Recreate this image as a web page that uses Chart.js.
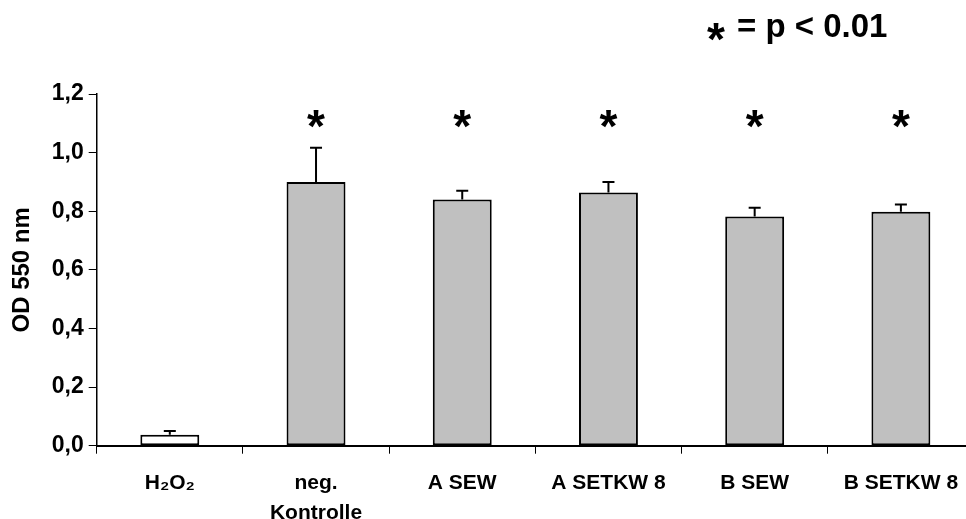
<!DOCTYPE html>
<html>
<head>
<meta charset="utf-8">
<script src="https://cdn.jsdelivr.net/npm/chart.js@4.4.1/dist/chart.umd.min.js"></script>
<style>
  html, body { margin: 0; padding: 0; background: #fff; overflow: hidden; }
  #wrap { width: 980px; height: 519px; }
</style>
</head>
<body>
<div id="wrap"><canvas id="c" width="980" height="519"></canvas></div>
<script>
// Groups on the x axis (multi-line labels as arrays)
const categories = [["H\u2082O\u2082"], ["neg.", "Kontrolle"], ["A SEW"], ["A SETKW 8"], ["B SEW"], ["B SETKW 8"]];
// Mean optical density at 550 nm
const means = [0.037, 0.90, 0.84, 0.864, 0.782, 0.798];
// Upper error (standard deviation)
const errors = [0.013, 0.117, 0.03, 0.036, 0.03, 0.025];
// Significance flags (p < 0.01)
const significant = [false, true, true, true, true, true];
// Height at which the significance stars sit
const starLevel = 1.12;
// Bar fills
const fills = ["#ffffff", "#c0c0c0", "#c0c0c0", "#c0c0c0", "#c0c0c0", "#c0c0c0"];
// Y tick values
const yTicks = [0, 0.2, 0.4, 0.6, 0.8, 1.0, 1.2];

const FONT = "'Liberation Sans', Arial, sans-serif";

const errorBars = {
  id: 'errorBars',
  afterDatasetsDraw(chart) {
    const ctx = chart.ctx;
    const y = chart.scales.y;
    const meta = chart.getDatasetMeta(0);
    ctx.save();
    ctx.strokeStyle = '#000';
    ctx.lineWidth = 2;
    meta.data.forEach((bar, i) => {
      const top = y.getPixelForValue(means[i] + errors[i]);
      ctx.beginPath();
      ctx.moveTo(bar.x, bar.y);
      ctx.lineTo(bar.x, top);
      ctx.moveTo(bar.x - 6, top);
      ctx.lineTo(bar.x + 6, top);
      ctx.stroke();
    });
    // significance stars
    ctx.fillStyle = '#000';
    ctx.font = 'bold 46px ' + FONT;
    ctx.textAlign = 'center';
    ctx.textBaseline = 'alphabetic';
    const sy = y.getPixelForValue(starLevel);
    meta.data.forEach((bar, i) => {
      if (significant[i]) ctx.fillText('*', bar.x, sy + 25);
    });
    // key for the stars
    ctx.textAlign = 'left';
    ctx.fillText('*', 707, 55);
    ctx.font = 'bold 33px ' + FONT;
    ctx.fillText('= p < 0.01', 737, 37);
    ctx.restore();
  }
};

new Chart(document.getElementById('c'), {
  type: 'bar',
  data: {
    labels: categories,
    datasets: [{
      data: means,
      backgroundColor: fills,
      borderColor: '#000',
      borderWidth: 2,
      borderSkipped: false,
      categoryPercentage: 1.0,
      barPercentage: 0.403
    }]
  },
  options: {
    responsive: false,
    animation: false,
    devicePixelRatio: 1,
    layout: { padding: { top: 94, right: 6, bottom: 0, left: 0 } },
    plugins: { legend: { display: false }, tooltip: { enabled: false } },
    scales: {
      x: {
        offset: true,
        grid: { offset: true, drawOnChartArea: false, drawTicks: true, tickLength: 8, color: '#000', lineWidth: 1 },
        border: { color: '#000', width: 2 },
        ticks: { color: '#000', font: { family: FONT, size: 21, weight: 'bold', lineHeight: 1.4 }, padding: 15, maxRotation: 0, autoSkip: false },
        afterFit(s) { s.height = 73.3; }
      },
      y: {
        min: 0, max: 1.2,
        afterBuildTicks(s) { s.ticks = yTicks.map(v => ({ value: v })); },
        grid: { drawOnChartArea: false, drawTicks: true, tickLength: 8, color: '#000', lineWidth: 1 },
        border: { color: '#000', width: 1.5 },
        ticks: {
          color: '#000', padding: 5,
          font: { family: FONT, size: 23, weight: 'bold' },
          callback: v => v.toFixed(1).replace('.', ',')
        },
        title: { display: true, text: 'OD 550 nm', color: '#000', font: { family: FONT, size: 24, weight: 'bold' }, padding: { top: 8, bottom: 0 } },
        afterFit(s) { s.width = 96.7; }
      }
    }
  },
  plugins: [errorBars]
});
</script>
</body>
</html>
